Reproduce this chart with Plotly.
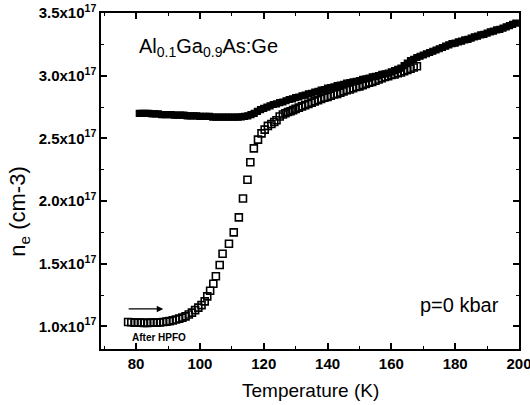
import plotly.graph_objects as go

# Filled squares (before illumination / cooling)
T_filled = list(range(81, 200))
n_filled = [
    2.70, 2.70, 2.70, 2.70, 2.695, 2.695, 2.695, 2.69, 2.69, 2.69,
    2.69, 2.685, 2.685, 2.685, 2.685, 2.68, 2.68, 2.68, 2.68, 2.675,
    2.675, 2.675, 2.675, 2.67, 2.67, 2.67, 2.67, 2.67, 2.67, 2.67,
    2.67, 2.67, 2.672, 2.675, 2.68, 2.69, 2.70, 2.715, 2.73, 2.74,
    2.75, 2.76, 2.77, 2.775, 2.785, 2.79, 2.80, 2.81, 2.815, 2.825,
    2.83, 2.84, 2.845, 2.855, 2.86, 2.87, 2.875, 2.885, 2.89, 2.90,
    2.905, 2.91, 2.92, 2.925, 2.93, 2.94, 2.945, 2.95, 2.955, 2.96,
    2.97, 2.975, 2.98, 2.99, 2.995, 3.00, 3.01, 3.015, 3.02, 3.03,
    3.04, 3.05, 3.06, 3.08, 3.10, 3.12, 3.13, 3.145, 3.155, 3.165,
    3.175, 3.185, 3.195, 3.205, 3.215, 3.225, 3.235, 3.245, 3.255, 3.26,
    3.27, 3.275, 3.285, 3.29, 3.30, 3.31, 3.315, 3.325, 3.33, 3.34,
    3.35, 3.355, 3.365, 3.37, 3.38, 3.39, 3.40, 3.41, 3.42,
]

# Open squares (after HPFO)
T_open = [
    77.5, 78.5, 79.5, 80.5, 81.5, 82.5, 83.5, 84.5, 85.5, 86.5,
    87.5, 88.5, 89.5, 90.5, 91.5, 92.5, 93.5, 94.5, 95.5, 96.5,
    97.5, 98.5, 99.5, 100.5, 101.5, 102.3, 103.2, 104.2, 105.0, 106.2,
    107.1, 109.1, 110.6, 112.2, 113.5, 114.9, 115.8, 116.9, 118.2, 119.3,
    120.3, 121.3, 122.4, 123.3, 124.0, 125.0, 126.0, 126.8, 127.6, 128.4,
    129.2, 130.0, 131, 132, 133, 134, 135, 136, 137, 138,
    139, 140, 141, 142, 143, 144, 145, 146, 147, 148,
    149, 150, 151, 152, 153, 154, 155, 156, 157, 158,
    159, 160, 161, 162, 163, 164, 165, 166, 167, 168,
]
n_open = [
    1.035, 1.033, 1.03, 1.03, 1.03, 1.028, 1.028, 1.03, 1.03, 1.03,
    1.032, 1.035, 1.038, 1.042, 1.048, 1.055, 1.062, 1.07, 1.08, 1.095,
    1.11, 1.13, 1.15, 1.17, 1.20, 1.24, 1.285, 1.34, 1.40, 1.49,
    1.58, 1.66, 1.75, 1.87, 2.02, 2.17, 2.31, 2.42, 2.49, 2.54,
    2.57, 2.60, 2.615, 2.63, 2.645, 2.675, 2.69, 2.70, 2.71, 2.716,
    2.725, 2.735, 2.745, 2.755, 2.765, 2.775, 2.785, 2.795, 2.805, 2.815,
    2.825, 2.83, 2.84, 2.85, 2.855, 2.865, 2.875, 2.885, 2.89, 2.90,
    2.91, 2.915, 2.925, 2.935, 2.945, 2.95, 2.96, 2.97, 2.98, 2.99,
    2.995, 3.005, 3.01, 3.02, 3.025, 3.035, 3.045, 3.055, 3.065, 3.075,
]

x_ticks = [80, 100, 120, 140, 160, 180, 200]
y_ticks = [1.0, 1.5, 2.0, 2.5, 3.0, 3.5]
y_ticktext = [f"{v:.1f}x10<sup>17</sup>" for v in y_ticks]

FONT = "Liberation Sans, Arial, sans-serif"

fig = go.Figure()
fig.add_trace(go.Scatter(
    x=T_filled, y=n_filled, mode="markers",
    marker=dict(symbol="square", size=6, color="black",
                line=dict(color="black", width=1.2)),
    showlegend=False, cliponaxis=False,
))
fig.add_trace(go.Scatter(
    x=T_open, y=n_open, mode="markers",
    marker=dict(symbol="square-open", size=7, color="black",
                line=dict(color="black", width=1.6)),
    showlegend=False,
))

axis_common = dict(
    showline=True, linecolor="black", linewidth=1.5, mirror="ticks",
    ticks="inside", ticklen=6, tickwidth=1.5, tickcolor="black",
    showgrid=False, zeroline=False, automargin=False,
    ticklabeloverflow="allow",
    tickfont=dict(family=FONT, size=15, color="black", weight="bold"),
)

fig.update_xaxes(
    range=[69, 200], tickvals=x_ticks,
    minor=dict(ticks="inside", ticklen=3, tickwidth=1.2, tickcolor="black", dtick=10),
    **axis_common,
)
fig.update_yaxes(
    range=[0.82, 3.5], tickvals=y_ticks, ticktext=y_ticktext,
    minor=dict(ticks="inside", ticklen=3, tickwidth=1.2, tickcolor="black", dtick=0.25, tick0=0),
    **axis_common,
)

annotations = [
    dict(text="Temperature (K)", x=0.5, y=-0.085, xref="paper", yref="paper",
         xanchor="center", yanchor="top", showarrow=False,
         font=dict(family=FONT, size=19, color="black")),
    dict(text="n<sub>e</sub> (cm-3)", x=-0.195, y=0.41, xref="paper", yref="paper",
         xanchor="center", yanchor="middle", textangle=-90, showarrow=False,
         font=dict(family=FONT, size=22, color="black")),
    dict(text="Al<sub>0.1</sub>Ga<sub>0.9</sub>As:Ge", x=80.3, y=3.225, xref="x", yref="y",
         xanchor="left", yanchor="middle", showarrow=False,
         font=dict(family=FONT, size=20, color="black")),
    dict(text="p=0 kbar", x=181.3, y=1.17, xref="x", yref="y",
         xanchor="center", yanchor="middle", showarrow=False,
         font=dict(family=FONT, size=20, color="black")),
    dict(text="<b>After HPFO</b>", x=78, y=0.91, xref="x", yref="y",
         xanchor="left", yanchor="middle", showarrow=False,
         font=dict(family=FONT, size=10, color="black")),
    dict(text="", x=88.5, y=1.14, ax=77.2, ay=1.14, xref="x", yref="y",
         axref="x", ayref="y", showarrow=True, arrowhead=2, arrowsize=1,
         arrowwidth=1.3, arrowcolor="black"),
]

fig.update_layout(
    width=530, height=405,
    margin=dict(l=101, r=11, t=13, b=56),
    paper_bgcolor="white", plot_bgcolor="white",
    annotations=annotations,
    font=dict(family=FONT, color="black"),
)

# Remove the browser's default 8px body margin so the figure sits at the page origin.
fig.write_html("out.html", config={"displayModeBar": False},
               post_script="document.body.style.margin='0';")
